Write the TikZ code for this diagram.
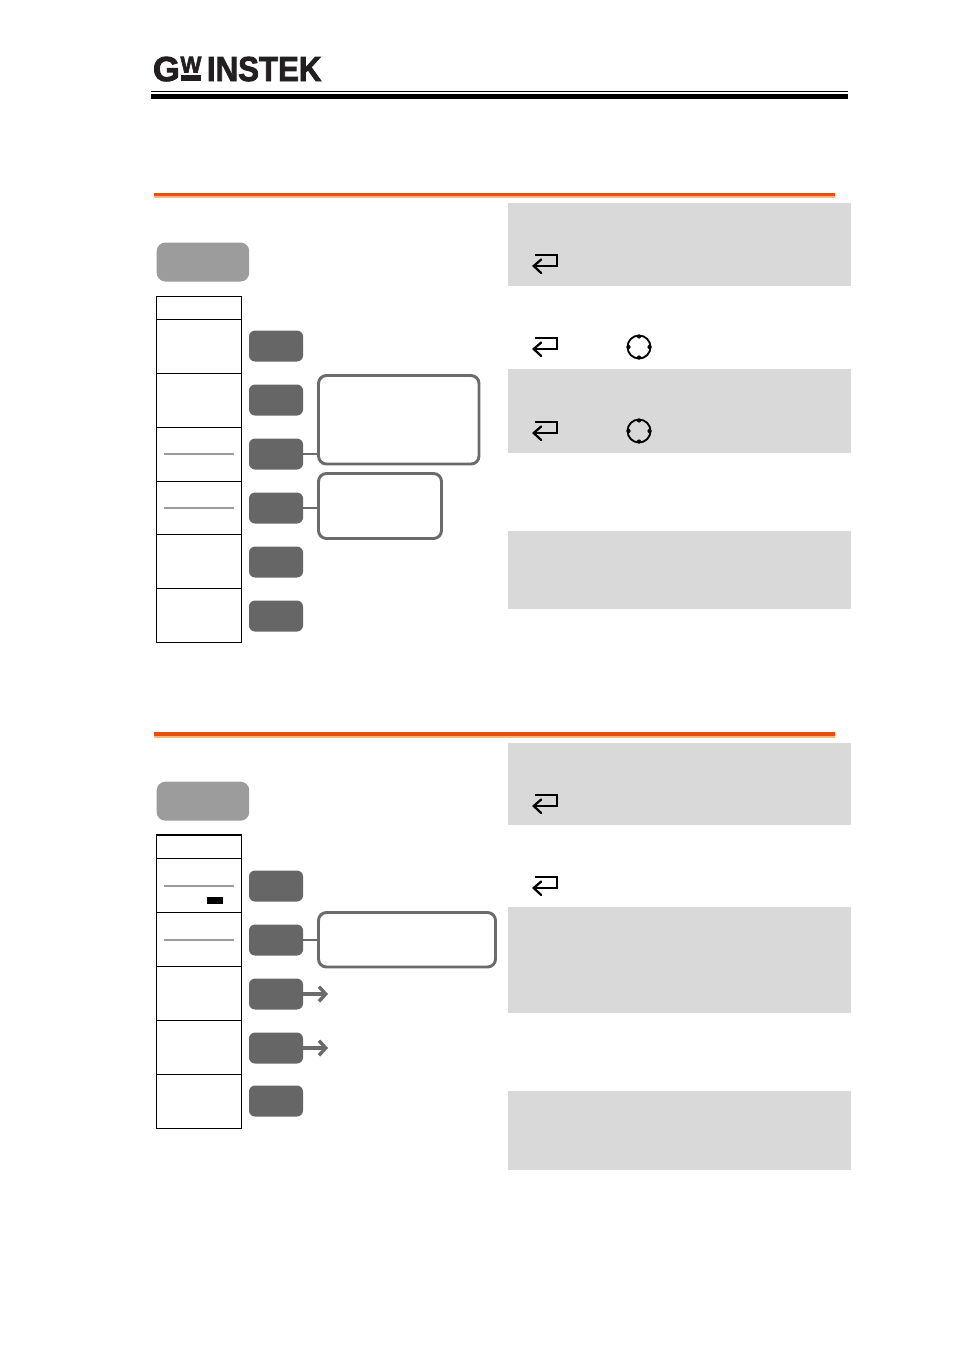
\documentclass[tikz,border=0pt]{standalone}
\usepackage{fontspec}
\setmainfont{Liberation Sans}
\newfontfamily\logofont[FakeBold=2.5,BoldFont={Liberation Sans Bold},UprightFont={Liberation Sans Bold}]{Liberation Sans}
\usetikzlibrary{arrows.meta}
\definecolor{panelgrey}{HTML}{D9D9D9}
\definecolor{btngrey}{HTML}{666666}
\definecolor{menugrey}{HTML}{9C9C9C}
\definecolor{lineg}{HTML}{6B6B6B}
\definecolor{logoc}{HTML}{231F20}
\definecolor{barorange}{HTML}{E84E0F}
\definecolor{barpale}{HTML}{FBB77E}
\tikzset{
  panel/.style 2 args={fill=panelgrey,draw=none,inner sep=0pt,outer sep=0pt,anchor=north west,minimum width=#1*0.75pt,minimum height=#2*0.75pt},
  softcell/.style={draw=black,line width=0.9pt,fill=white,inner sep=0pt,outer sep=0pt,anchor=north west,minimum width=85*0.75pt,minimum height=#1*0.75pt},
  softbtn/.style={fill=btngrey,draw=none,rounded corners=4.5pt,inner sep=0pt,outer sep=0pt,minimum width=54*0.75pt,minimum height=31*0.75pt},
  menubtn/.style={fill=menugrey,draw=none,rounded corners=6.5pt,inner sep=0pt,outer sep=0pt,anchor=north west,minimum width=92.5*0.75pt,minimum height=39*0.75pt},
  callout/.style 2 args={draw=lineg,line width=2.2pt,fill=white,rounded corners=6pt,inner sep=0pt,outer sep=0pt,anchor=north west,minimum width=#1*0.75pt,minimum height=#2*0.75pt},
  link/.style={draw=lineg,line width=2.2pt},
  sepline/.style={draw=menugrey,line width=1.3pt},
  pointer/.style={draw=lineg,line width=2.3pt,-{Straight Barb[length=5pt,width=11pt,line width=2.6pt]}},
  pics/entericon/.style={code={
    \draw[black,line width=1.7pt,miter limit=4] (-9.5,-8.5)--(12.5,-8.5)--(12.5,2.5)--(-11,2.5);
    \draw[black,line width=1.7pt,line cap=round] (-3.5,-4)--(-11,2.5)--(-3.5,9.5);}},
  pics/knobicon/.style={code={
    \draw[black,line width=1.4pt] (0,0) circle [radius=11.5*0.75pt];
    \foreach \a in {0,90,180,270}\fill[black] (\a:10.5) circle [radius=2.1*0.75pt];}},
  logotext/.style={text=logoc,inner sep=0pt,outer sep=0pt,anchor=base west,font=\fontsize{26pt}{26pt}\logofont}
}
\begin{document}
\begin{tikzpicture}[x=0.75pt,y=-0.75pt]
\useasboundingbox (0,0) rectangle (954,1349);
\fill[white] (0,0) rectangle (954,1349);

% logo
\node[logotext] (logoG) at (153,81) {G};
\node[logotext,xscale=0.64,yscale=0.66] (logoW) at (180.5,72.5) {W};
\fill[logoc] (181,75) rectangle (201,81);
\node[logotext,xscale=0.9] (logoI) at (207,81) {INSTEK};

% header rules
\fill[black] (151,91) rectangle (848,92.3);
\fill[black] (151,94) rectangle (848,99);

% orange rules
\fill[barorange] (154,193) rectangle (835,196.2);
\fill[barpale] (154,196.2) rectangle (835,198);
\fill[barorange] (154,732) rectangle (835,735.8);
\fill[barpale] (154,735.8) rectangle (835,738);

% panels first section
\node[panel={343}{83}] (p1) at (508,203) {};
\node[panel={343}{84}] (p2) at (508,369) {};
\node[panel={343}{78}] (p3) at (508,531) {};
% panels second section
\node[panel={343}{82}] (p4) at (508,743) {};
\node[panel={343}{106}] (p5) at (508,907) {};
\node[panel={343}{79}] (p6) at (508,1091) {};

% icons
\pic at (544.7,263.5) {entericon};
\pic at (544.7,346.5) {entericon};
\pic at (544.7,430.5) {entericon};
\pic at (544.7,803.5) {entericon};
\pic at (544.7,885.5) {entericon};
\pic at (639,347) {knobicon};
\pic at (639,431) {knobicon};

% first section
\node[menubtn] (m1) at (156.7,242.5) {};
\node[softcell=23] (a0) at (156.5,296.5) {};
\node[softcell=54] (a1) at (156.5,319.5) {};
\node[softcell=54] (a2) at (156.5,373.5) {};
\node[softcell=54] (a3) at (156.5,427.5) {};
\node[softcell=54] (a4) at (156.5,481.5) {};
\node[softcell=54] (a5) at (156.5,534.5) {};
\node[softcell=54] (a6) at (156.5,588.5) {};
\draw[sepline] (164,454) -- (234,454);
\draw[sepline] (164,508) -- (234,508);
\node[softbtn] (b1) at (276,346) {};
\node[softbtn] (b2) at (276,400) {};
\node[softbtn] (b3) at (276,454) {};
\node[softbtn] (b4) at (276,508) {};
\node[softbtn] (b5) at (276,562) {};
\node[softbtn] (b6) at (276,616) {};
\node[callout={160.5}{88.5}] (c1) at (318.5,375.5) {};
\node[callout={123}{65}] (c2) at (318.5,473.5) {};
\draw[link] (b3.east) -- (b3.east -| c1.west);
\draw[link] (b4.east) -- (b4.east -| c2.west);

% second section
\node[menubtn] (m2) at (156.7,781.7) {};
\node[softcell=24] (d0) at (156.5,835) {};
\node[softcell=54] (d1) at (156.5,858.5) {};
\node[softcell=54] (d2) at (156.5,912.5) {};
\node[softcell=54] (d3) at (156.5,966.5) {};
\node[softcell=54] (d4) at (156.5,1020.5) {};
\node[softcell=54] (d5) at (156.5,1074.5) {};
\draw[sepline] (164,886) -- (234,886);
\draw[sepline] (164,940) -- (234,940);
\fill[black] (207,897) rectangle (223,904);
\node[softbtn] (e1) at (276,886) {};
\node[softbtn] (e2) at (276,940) {};
\node[softbtn] (e3) at (276,994) {};
\node[softbtn] (e4) at (276,1048) {};
\node[softbtn] (e5) at (276,1101) {};
\node[callout={177}{54.5}] (c3) at (318.5,912.5) {};
\draw[link] (e2.east) -- (e2.east -| c3.west);
\coordinate (t3) at (328,994);
\coordinate (t4) at (328,1048);
\draw[pointer] (e3.east) -- (t3);
\draw[pointer] (e4.east) -- (t4);
\end{tikzpicture}
\end{document}
